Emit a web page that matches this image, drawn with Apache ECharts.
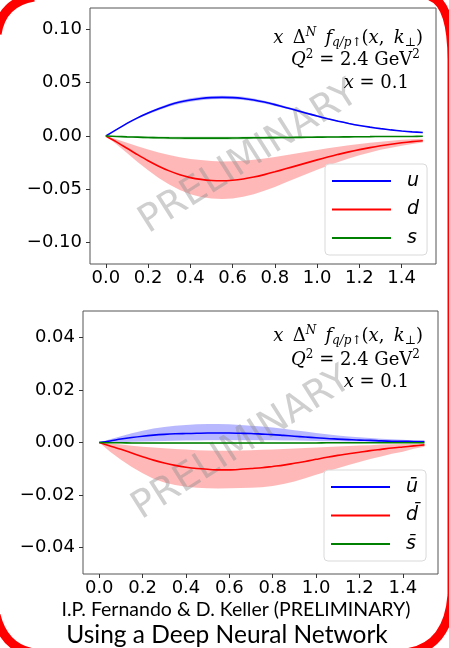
<!DOCTYPE html>
<html>
<head>
<meta charset="utf-8">
<script src="https://cdn.jsdelivr.net/npm/echarts@6/dist/echarts.min.js"></script>
<style>
html,body{margin:0;padding:0;background:#fff;}
#c{width:449px;height:648px;}
</style>
</head>
<body>
<div id="c"></div>
<script>
// ---- data ----
const xs = [0,0.05,0.1,0.15,0.2,0.25,0.3,0.35,0.4,0.45,0.5,0.55,0.6,0.65,0.7,0.75,0.8,0.85,0.9,0.95,1.0,1.05,1.1,1.15,1.2,1.25,1.3,1.35,1.4,1.45,1.5];
const xTicks = [0,0.2,0.4,0.6,0.8,1.0,1.2,1.4];
const yTicksTop = [-0.1,-0.05,0,0.05,0.1];
const yTicksBot = [-0.04,-0.02,0,0.02,0.04];

// top panel: quarks
const u   = [0,0.0060,0.0118,0.0170,0.0215,0.0255,0.0290,0.0318,0.0338,0.0352,0.0360,0.0362,0.0360,0.0352,0.0338,0.0318,0.0294,0.0268,0.0241,0.0214,0.0187,0.0162,0.0139,0.0118,0.0099,0.0083,0.0069,0.0057,0.0047,0.0039,0.0033];
const uLo = [0,0.0057,0.0112,0.0161,0.0204,0.0242,0.0276,0.0303,0.0322,0.0336,0.0344,0.0346,0.0344,0.0337,0.0324,0.0305,0.0282,0.0257,0.0231,0.0205,0.0179,0.0155,0.0133,0.0113,0.0095,0.0080,0.0066,0.0055,0.0045,0.0037,0.0031];
const uHi = [0,0.0063,0.0124,0.0179,0.0226,0.0268,0.0304,0.0333,0.0354,0.0368,0.0376,0.0378,0.0376,0.0367,0.0352,0.0331,0.0306,0.0279,0.0251,0.0223,0.0195,0.0169,0.0145,0.0123,0.0103,0.0086,0.0072,0.0059,0.0049,0.0041,0.0035];
const d   = [0,-0.0055,-0.0115,-0.0175,-0.0232,-0.0283,-0.0327,-0.0363,-0.0390,-0.0407,-0.0417,-0.0420,-0.0415,-0.0403,-0.0385,-0.0362,-0.0336,-0.0308,-0.0280,-0.0252,-0.0224,-0.0197,-0.0172,-0.0149,-0.0128,-0.0109,-0.0092,-0.0077,-0.0064,-0.0053,-0.0044];
const dHi = [0,-0.0031,-0.0064,-0.0097,-0.0127,-0.0155,-0.0179,-0.0199,-0.0215,-0.0226,-0.0234,-0.0238,-0.0237,-0.0232,-0.0223,-0.0211,-0.0197,-0.0181,-0.0165,-0.0148,-0.0132,-0.0116,-0.0101,-0.0087,-0.0074,-0.0063,-0.0053,-0.0044,-0.0036,-0.0030,-0.0025];
const dLo = [0,-0.0077,-0.0160,-0.0243,-0.0322,-0.0393,-0.0455,-0.0506,-0.0545,-0.0571,-0.0586,-0.0591,-0.0586,-0.0570,-0.0546,-0.0514,-0.0477,-0.0437,-0.0396,-0.0356,-0.0316,-0.0278,-0.0243,-0.0211,-0.0181,-0.0154,-0.0130,-0.0109,-0.0091,-0.0075,-0.0062];
const s   = [0,-0.0004,-0.0008,-0.0011,-0.0014,-0.0016,-0.0018,-0.0019,-0.0020,-0.0020,-0.0020,-0.0020,-0.0019,-0.0018,-0.0017,-0.0016,-0.0015,-0.0014,-0.0013,-0.0012,-0.0011,-0.0010,-0.0009,-0.0008,-0.0007,-0.0006,-0.0005,-0.0005,-0.0004,-0.0004,-0.0003];
const sHi = [0,-0.0001,-0.0002,-0.0003,-0.0004,-0.0005,-0.0006,-0.0006,-0.0007,-0.0007,-0.0007,-0.0007,-0.0006,-0.0006,-0.0005,-0.0005,-0.0004,-0.0004,-0.0004,-0.0003,-0.0003,-0.0003,-0.0002,-0.0002,-0.0002,-0.0001,-0.0001,-0.0001,-0.0001,-0.0001,0];
const sLo = [0,-0.0007,-0.0014,-0.0019,-0.0024,-0.0027,-0.0030,-0.0032,-0.0033,-0.0033,-0.0033,-0.0033,-0.0032,-0.0030,-0.0029,-0.0027,-0.0026,-0.0024,-0.0022,-0.0021,-0.0019,-0.0017,-0.0016,-0.0014,-0.0012,-0.0011,-0.0009,-0.0009,-0.0007,-0.0007,-0.0006];

// bottom panel: antiquarks
const ub   = [0,0.0006,0.0013,0.0019,0.0024,0.0028,0.0031,0.0033,0.0034,0.0035,0.0036,0.0036,0.0036,0.0035,0.0034,0.0032,0.0030,0.0027,0.0024,0.0021,0.0018,0.0015,0.0013,0.0011,0.0009,0.0008,0.0006,0.0005,0.0005,0.0004,0.0004];
const ubHi = [0,0.0012,0.0024,0.0035,0.0045,0.0053,0.0059,0.0064,0.0067,0.0069,0.0070,0.0070,0.0069,0.0067,0.0064,0.0061,0.0057,0.0052,0.0047,0.0042,0.0036,0.0031,0.0027,0.0023,0.0020,0.0017,0.0014,0.0012,0.0010,0.0008,0.0006];
const ubLo = [0,0.0001,0.0002,0.0003,0.0004,0.0005,0.0006,0.0007,0.0008,0.0008,0.0009,0.0009,0.0009,0.0009,0.0009,0.0009,0.0009,0.0008,0.0008,0.0007,0.0006,0.0005,0.0005,0.0004,0.0004,0.0003,0.0003,0.0002,0.0002,0.0002,0.0002];
const db   = [0,-0.0013,-0.0026,-0.0040,-0.0054,-0.0067,-0.0078,-0.0087,-0.0094,-0.0099,-0.0102,-0.0104,-0.0104,-0.0102,-0.0099,-0.0096,-0.0091,-0.0086,-0.0079,-0.0072,-0.0064,-0.0056,-0.0049,-0.0043,-0.0037,-0.0031,-0.0026,-0.0021,-0.0017,-0.0013,-0.0009];
const dbHi = [0,-0.0004,-0.0008,-0.0012,-0.0016,-0.0019,-0.0022,-0.0025,-0.0027,-0.0029,-0.0030,-0.0031,-0.0031,-0.0030,-0.0029,-0.0028,-0.0027,-0.0025,-0.0023,-0.0021,-0.0019,-0.0017,-0.0015,-0.0013,-0.0011,-0.0010,-0.0008,-0.0007,-0.0006,-0.0005,-0.0004];
const dbLo = [0,-0.0035,-0.0066,-0.0093,-0.0117,-0.0138,-0.0152,-0.0162,-0.0168,-0.0172,-0.0174,-0.0175,-0.0174,-0.0173,-0.0172,-0.0170,-0.0165,-0.0158,-0.0148,-0.0136,-0.0123,-0.0110,-0.0098,-0.0086,-0.0074,-0.0063,-0.0053,-0.0043,-0.0035,-0.0024,-0.0016];
const sb   = [0,-0.0001,-0.0001,-0.0002,-0.0002,-0.0002,-0.0002,-0.0002,-0.0002,-0.0002,-0.0002,-0.0002,-0.0002,-0.0002,-0.0002,-0.0002,-0.0002,-0.0002,-0.0002,-0.0002,-0.0002,-0.0001,-0.0001,-0.0001,-0.0001,-0.0001,-0.0001,-0.0001,-0.0001,-0.0001,-0.0001];
const sbHi = [0,0,0,0,0,0,0,0,0,0,0,0,0,0,0,0,0,0,0,0,0,0,0,0,0,0,0,0,0,0,0];
const sbLo = [0,-0.0002,-0.0003,-0.0004,-0.0004,-0.0005,-0.0005,-0.0005,-0.0005,-0.0005,-0.0005,-0.0005,-0.0005,-0.0005,-0.0005,-0.0004,-0.0004,-0.0004,-0.0004,-0.0004,-0.0003,-0.0003,-0.0003,-0.0003,-0.0003,-0.0002,-0.0002,-0.0002,-0.0002,-0.0002,-0.0002];

const namesTop = ['u','d','s'];
const namesBot = ['\u016B','d\u0304','s\u0304'];
const colors = ['#0000ff','#ff0000','#008000'];
const bandColors = ['rgba(0,0,255,0.28)','rgba(255,0,0,0.28)','rgba(0,128,0,0.28)'];

// ---- build option ----
function band(gi, lo, hi, color) {
  return {
    type: 'custom', xAxisIndex: gi, yAxisIndex: gi, silent: true, z: 1,
    data: xs.map((x, i) => [x, lo[i], hi[i]]),
    encode: { x: 0, y: [1, 2] },
    renderItem: function (params, api) {
      if (params.dataIndex !== 0) return { type: 'group', children: [] };
      const pts = [];
      for (let i = 0; i < xs.length; i++) pts.push(api.coord([xs[i], hi[i]]));
      for (let i = xs.length - 1; i >= 0; i--) pts.push(api.coord([xs[i], lo[i]]));
      return { type: 'polygon', shape: { points: pts }, style: { fill: color, stroke: null } };
    }
  };
}
function line(gi, name, vals, color) {
  return {
    type: 'line', name: name, xAxisIndex: gi, yAxisIndex: gi, z: 5,
    data: xs.map((x, i) => [x, vals[i]]),
    symbol: 'none', showSymbol: false, smooth: 0.3,
    lineStyle: { color: color, width: 1.6 }, itemStyle: { color: color }
  };
}
const tickFont = { fontFamily: 'DejaVu Sans', fontSize: 18, color: '#000' };
function xAxis(gi) {
  return {
    type: 'value', gridIndex: gi, min: -0.075, max: 1.5625,
    axisLine: { show: false, onZero: false },
    axisTick: { show: true, customValues: xTicks, length: 4, lineStyle: { color: '#333' } },
    axisLabel: Object.assign({ customValues: xTicks, margin: 5, formatter: v => v.toFixed(1) }, tickFont),
    splitLine: { show: false }
  };
}
function yAxis(gi, lim, ticks) {
  return {
    type: 'value', gridIndex: gi, min: -lim, max: lim,
    axisLine: { show: false, onZero: false },
    axisTick: { show: true, customValues: ticks, length: 4, lineStyle: { color: '#333' } },
    axisLabel: Object.assign({ customValues: ticks, margin: 8,
      formatter: v => (v < -1e-9 ? '\u2212' : '') + Math.abs(v).toFixed(2) }, tickFont),
    splitLine: { show: false }
  };
}
function legend(left, top, names) {
  return {
    orient: 'vertical', left: left, top: top, data: names,
    icon: 'rect', itemWidth: 59, itemHeight: 2, itemGap: 6.5,
    padding: [6, 8, 6, 7],
    backgroundColor: 'rgba(255,255,255,0.85)', borderColor: '#d9d9d9', borderWidth: 1, borderRadius: 4,
    textStyle: { fontFamily: 'DejaVu Sans', fontStyle: 'italic', fontSize: 19, lineHeight: 22, color: '#000', padding: [0, 0, 0, 11] },
    selectedMode: false
  };
}
const serif = '"DejaVu Serif", "Liberation Serif", serif';
const rich = {
  i: { fontFamily: serif, fontStyle: 'italic', fontSize: 18, lineHeight: 22, fill: '#000' },
  r: { fontFamily: serif, fontSize: 18, lineHeight: 22, fill: '#000' },
  supi: { fontFamily: serif, fontStyle: 'italic', fontSize: 12, lineHeight: 12, verticalAlign: 'top', fill: '#000' },
  sup: { fontFamily: serif, fontSize: 12, lineHeight: 12, verticalAlign: 'top', fill: '#000' },
  subi: { fontFamily: serif, fontStyle: 'italic', fontSize: 12, lineHeight: 14, verticalAlign: 'bottom', fill: '#000' },
  sub: { fontFamily: serif, fontSize: 12, lineHeight: 14, verticalAlign: 'bottom', fill: '#000' }
};
const ann1 = '{i|x}{r|\u2009 \u0394}{supi|N}{r|\u2009 }{i|f}{subi|q/p}{sub|\u2191}{r|(}{i|x}{r|,\u2009 }{i|k}{sub|\u22A5}{r|)}';
const ann2 = '{i|Q}{sup|2}{r| = 2.4 GeV}{sup|2}';
const ann3 = '{i|x}{r| = 0.1}';
function annot(x, y, txt) {
  return { type: 'text', x: x, y: y, z: 6, style: { text: txt, rich: rich, align: 'right', verticalAlign: 'middle', fill: '#000', font: '18px ' + serif } };
}
function mark(x, y) {
  return { type: 'text', x: x, y: y, rotation: 0.567, z: 3,
    style: { text: 'PRELIMINARY', align: 'center', verticalAlign: 'middle', font: '38px "DejaVu Sans"', fill: 'rgba(140,140,140,0.42)' } };
}
const red = { stroke: '#ff0000', lineWidth: 9, fill: null };

const option = {
  animation: false,
  grid: [
    { left: 90, top: 8, width: 346, height: 256, show: true, borderColor: '#555', borderWidth: 1, backgroundColor: 'transparent' },
    { left: 83, top: 311, width: 355, height: 263, show: true, borderColor: '#555', borderWidth: 1, backgroundColor: 'transparent' }
  ],
  xAxis: [xAxis(0), xAxis(1)],
  yAxis: [yAxis(0, 0.12, yTicksTop), yAxis(1, 0.05, yTicksBot)],
  legend: [legend(325, 164, namesTop), legend(324, 470, namesBot)],
  series: [
    band(0, uLo, uHi, bandColors[0]), band(0, dLo, dHi, bandColors[1]), band(0, sLo, sHi, bandColors[2]),
    line(0, namesTop[0], u, colors[0]), line(0, namesTop[1], d, colors[1]), line(0, namesTop[2], s, colors[2]),
    band(1, ubLo, ubHi, bandColors[0]), band(1, dbLo, dbHi, bandColors[1]), band(1, sbLo, sbHi, bandColors[2]),
    line(1, namesBot[0], ub, colors[0]), line(1, namesBot[1], db, colors[1]), line(1, namesBot[2], sb, colors[2])
  ],
  graphic: [
    mark(249, 158), mark(242, 444),
    annot(423, 38, ann1), annot(420, 60, ann2), annot(409, 83, ann3),
    annot(423, 336, ann1), annot(420, 360, ann2), annot(409, 382, ann3),
    { type: 'text', x: 236, y: 610, z: 6, style: { text: 'I.P. Fernando & D. Keller (PRELIMINARY)', align: 'center', verticalAlign: 'middle', font: '19.5px Lato', fill: '#000' } },
    { type: 'text', x: 227, y: 635, z: 6, style: { text: 'Using a Deep Neural Network', align: 'center', verticalAlign: 'middle', font: '24.5px Lato', fill: '#000' } },
    { type: 'bezierCurve', z: 10, shape: { x1: -3, y1: 34, cpx1: 2, cpy1: 2, x2: 34, y2: -3 }, style: red },
    { type: 'bezierCurve', z: 10, shape: { x1: 430, y1: -4, cpx1: 452, cpy1: 4, x2: 452, y2: 60 }, style: red },
    { type: 'line', z: 10, shape: { x1: 452, y1: 60, x2: 452, y2: 595 }, style: red },
    { type: 'bezierCurve', z: 10, shape: { x1: 452, y1: 595, cpx1: 448, cpy1: 648, x2: 405, y2: 653 }, style: red },
    { type: 'bezierCurve', z: 10, shape: { x1: -4, y1: 615, cpx1: 4, cpy1: 648, x2: 34, y2: 653 }, style: red }
  ]
};
const chart = echarts.init(document.getElementById('c'), null, { renderer: 'canvas' });
chart.setOption(option);
</script>
</body>
</html>
